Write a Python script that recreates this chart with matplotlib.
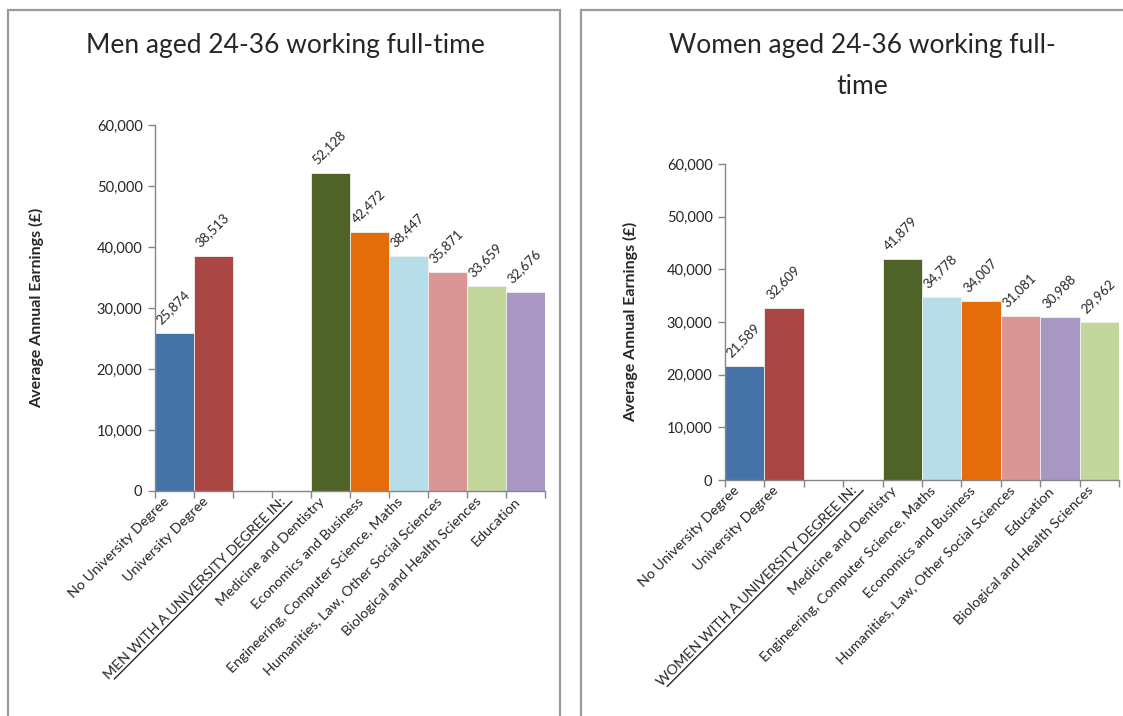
import matplotlib
matplotlib.use("Agg")
import matplotlib.pyplot as plt
from matplotlib.patches import Rectangle
from matplotlib.lines import Line2D
import numpy as np

# ---- data -------------------------------------------------------------
men_labels = [
    "No University Degree",
    "University Degree",
    "",
    "MEN WITH A UNIVERSITY DEGREE IN:",
    "Medicine and Dentistry",
    "Economics and Business",
    "Engineering, Computer Science, Maths",
    "Humanities, Law, Other Social Sciences",
    "Biological and Health Sciences",
    "Education",
]
men_values = [25874, 38513, None, None, 52128, 42472, 38447, 35871, 33659, 32676]
men_colors = ["#4573A7", "#AA4643", None, None, "#4F6228", "#E46C0A",
              "#B7DEE8", "#D99694", "#C3D69B", "#A997C3"]

women_labels = [
    "No University Degree",
    "University Degree",
    "",
    "WOMEN WITH A UNIVERSITY DEGREE IN:",
    "Medicine and Dentistry",
    "Engineering, Computer Science, Maths",
    "Economics and Business",
    "Humanities, Law, Other Social Sciences",
    "Education",
    "Biological and Health Sciences",
]
women_values = [21589, 32609, None, None, 41879, 34778, 34007, 31081, 30988, 29962]
women_colors = ["#4573A7", "#AA4643", None, None, "#4F6228", "#B7DEE8",
                "#E46C0A", "#D99694", "#A997C3", "#C3D69B"]

header_index = 3
y_ticks = [0, 10000, 20000, 30000, 40000, 50000, 60000]

FONT = ["Lato", "DejaVu Sans"]
plt.rcParams["font.family"] = FONT
TXT = "#262626"
AXC = "#868686"

W, H = 1123, 716
fig = plt.figure(figsize=(W / 100, H / 100), dpi=100)


def px_box(x0, y0, x1, y1):
    """Figure-fraction rectangle from pixel coordinates (top-left origin)."""
    return [x0 / W, 1 - y1 / H, (x1 - x0) / W, (y1 - y0) / H]


# panel frames
for x0, x1 in [(8, 560), (581, 1135)]:
    fig.patches.append(Rectangle((x0 / W, -0.05), (x1 - x0) / W, 1.05 - 10 / H,
                                 transform=fig.transFigure, fill=False,
                                 edgecolor="#9A9A9A", linewidth=1.6, zorder=0))


def panel(rect, labels, values, colors, title, title_xy, ylabel_x):
    ax = fig.add_axes(rect)
    n = len(labels)
    x = np.arange(n) + 0.5
    for xi, v, c in zip(x, values, colors):
        if v is None:
            continue
        ax.bar(xi, v, width=1.0, color=c, edgecolor="#f0f0f0", linewidth=0.6, zorder=2)
        ax.annotate(f"{v:,}", (xi, v), xytext=(-1, 5), textcoords="offset points",
                    rotation=45, ha="center", va="bottom", fontsize=9.5, color=TXT)
    ax.set_xlim(0, n)
    ax.set_ylim(0, 60000)
    ax.set_yticks(y_ticks)
    ax.set_yticklabels([f"{t:,}" for t in y_ticks], fontsize=10.5, color=TXT)
    ax.xaxis.remove_overlapping_locs = False
    ax.set_xticks(np.arange(n + 1), minor=True)
    ax.set_xticks(x - 0.3)
    ax.set_xticklabels(labels, rotation=45, ha="right", rotation_mode="anchor",
                       fontsize=10.3, color=TXT)
    ax.tick_params(axis="x", which="major", length=0, pad=3)
    ax.tick_params(axis="x", which="minor", length=5, color=AXC, width=1.0, direction="out")
    ax.tick_params(axis="y", length=5, color=AXC, width=1.0, direction="out", pad=4)
    for s in ["top", "right"]:
        ax.spines[s].set_visible(False)
    for s in ["left", "bottom"]:
        ax.spines[s].set_color(AXC)
        ax.spines[s].set_linewidth(1.0)
    fig.text(ylabel_x / W, (ax.get_position().y0 + ax.get_position().y1) / 2,
             "Average Annual Earnings (£)", rotation=90, ha="center", va="center",
             fontsize=11.5, fontweight="bold", color=TXT)
    fig.text(title_xy[0] / W, 1 - title_xy[1] / H, title, ha="center", va="center",
             fontsize=19, color=TXT, linespacing=1.75)
    return ax


ax1 = panel(px_box(155, 125, 545, 491), men_labels, men_values, men_colors,
            "Men aged 24-36 working full-time", (285, 45), 37)
ax2 = panel(px_box(725, 164, 1119, 480), women_labels, women_values, women_colors,
            "Women aged 24-36 working full-\ntime", (862, 66), 631)

# underline the section header label on each x axis
fig.canvas.draw()
renderer = fig.canvas.get_renderer()
for ax in (ax1, ax2):
    lab = ax.get_xticklabels()[header_index]
    probe = fig.text(0, 0, lab.get_text(), fontsize=lab.get_fontsize(),
                     family=FONT)
    w = probe.get_window_extent(renderer).width
    probe.remove()
    bb = lab.get_window_extent(renderer)
    # right end of the rotated label sits at the top-right of its bbox
    ux, uy = np.cos(np.pi / 4), np.sin(np.pi / 4)
    ex, ey = bb.x1, bb.y1
    off = 7.0
    x_end, y_end = ex + off * uy - 2 * ux, ey - off * ux - 2 * uy
    x_start, y_start = x_end - w * ux, y_end - w * uy
    line = Line2D([x_start, x_end], [y_start, y_end], transform=None,
                  color="#262626", linewidth=1.0)
    fig.lines.append(line)

fig.savefig("out.png", dpi=100, facecolor="white")
